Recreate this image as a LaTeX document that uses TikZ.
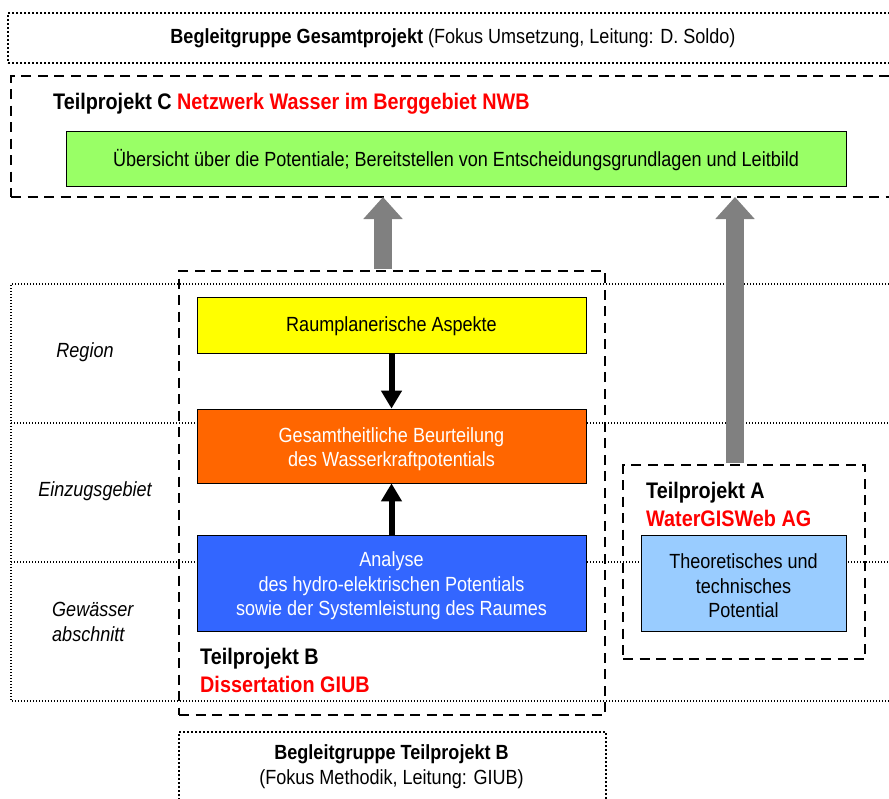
\documentclass[tikz,border=0pt]{standalone}
\usepackage{fontspec}
\setmainfont{Liberation Sans}[FakeStretch=0.88]
\usetikzlibrary{arrows.meta}
\definecolor{cgreen}{HTML}{99FF66}
\definecolor{cyellow}{HTML}{FFFF00}
\definecolor{corange}{HTML}{FF6600}
\definecolor{cblue}{HTML}{3366FF}
\definecolor{clblue}{HTML}{99CCFF}
\definecolor{cred}{HTML}{FF0000}
\definecolor{cgray}{HTML}{808080}
\begin{document}
\begin{tikzpicture}[x=1pt,y=-1pt,
  font=\fontsize{20.5}{24.5}\selectfont,
  dbox/.style={draw, line width=2.2pt, dash pattern=on 10pt off 6.5pt, anchor=north west, inner sep=0pt},
  dotbox/.style={draw, line width=2pt, dash pattern=on 2pt off 2pt, anchor=north west, inner sep=0pt},
  gridline/.style={line width=1.4pt, dash pattern=on 1.4pt off 1.6pt},
  cbox/.style={draw, line width=0.8pt, inner sep=0pt},
  ctext/.style={inner sep=0pt, align=center},
  blk/.style={line width=6pt, -{Triangle[width=20pt,length=18pt]}},
  gry/.style={draw=cgray, line width=18pt, cgray, -{Triangle[width=38pt,length=22pt]}},
  title/.style={font=\fontsize{22.5}{28}\selectfont\bfseries, inner sep=0pt, align=left},
  rowlab/.style={font=\fontsize{20.5}{24.5}\selectfont\itshape, align=left, inner sep=0pt}
]
\useasboundingbox (0,0) rectangle (889,798);

% grid of rows
\draw[gridline] (892,284) -- (11,284) -- (11,701) -- (892,701);
\draw[gridline] (11,423) -- (892,423);
\draw[gridline] (11,562) -- (892,562);

\node[rowlab] (region) at (85,352) {Region};
\node[rowlab] (einzug) at (95,491) {Einzugsgebiet};
\node[rowlab, anchor=west] (gew) at (52,622) {Gewässer\\abschnitt};

% top group
\node[dotbox, minimum width=890pt, minimum height=50pt] (topgrp) at (7,12) {};
\node[inner sep=0pt] (toptext) at (453,38) {\textbf{Begleitgruppe Gesamtprojekt} (Fokus Umsetzung, Leitung: D. Soldo)};

% Teilprojekt C
\node[dbox, minimum width=890pt, minimum height=121pt] (cbox) at (10,75) {};
\node[title, anchor=west] (ctitle) at (53,104) {Teilprojekt C \textcolor{cred}{Netzwerk Wasser im Berggebiet NWB}};
\node[cbox, fill=cgreen, minimum width=780pt, minimum height=55pt] (green) at (456,158.5) {};
\node[ctext] (greentxt) at (456,160) {Übersicht über die Potentiale; Bereitstellen von Entscheidungsgrundlagen und Leitbild};

% Teilprojekt B
\node[dbox, minimum width=426pt, minimum height=444pt] (bbox) at (178,270) {};
\node[cbox, fill=cyellow, minimum width=389pt, minimum height=56pt] (yellow) at (391.5,325) {};
\node[ctext] (yellowtxt) at (391.5,326) {Raumplanerische Aspekte};
\node[cbox, fill=corange, minimum width=389pt, minimum height=74pt] (orange) at (391.5,446) {};
\node[ctext, text=white] (orangetxt) at (391.5,449) {Gesamtheitliche Beurteilung\\des Wasserkraftpotentials};
\node[cbox, fill=cblue, minimum width=389pt, minimum height=96pt] (blue) at (391.5,583) {};
\node[ctext, text=white] (bluetxt) at (391.5,586) {Analyse\\des hydro-elektrischen Potentials\\sowie der Systemleistung des Raumes};
\node[title, anchor=west] (btitle) at (200,670) {Teilprojekt B\\\textcolor{cred}{Dissertation GIUB}};

\draw[blk] (yellow.south) -- (orange.north);
\draw[blk] (blue.north) -- (orange.south);

% Teilprojekt A
\node[dbox, minimum width=242pt, minimum height=194pt] (abox) at (622,464) {};
\node[title, anchor=west] (atitle) at (646,504) {Teilprojekt A\\\textcolor{cred}{WaterGISWeb AG}};
\node[cbox, fill=clblue, minimum width=205pt, minimum height=96pt] (lblue) at (743.5,583) {};
\node[ctext] (lbluetxt) at (743.5,586) {Theoretisches und\\technisches\\Potential};

% gray arrows
\coordinate (g1s) at (383,269);
\coordinate (g1e) at (383,197);
\coordinate (g2s) at (735,463);
\coordinate (g2e) at (735,197);
\draw[gry] (g1s) -- (g1e);
\draw[gry] (g2s) -- (g2e);

% bottom group
\node[dotbox, minimum width=427pt, minimum height=80pt] (botgrp) at (178,731) {};
\node[ctext] (bottext) at (391.5,766.5) {\textbf{Begleitgruppe Teilprojekt B}\\(Fokus Methodik, Leitung: GIUB)};
\end{tikzpicture}
\end{document}
